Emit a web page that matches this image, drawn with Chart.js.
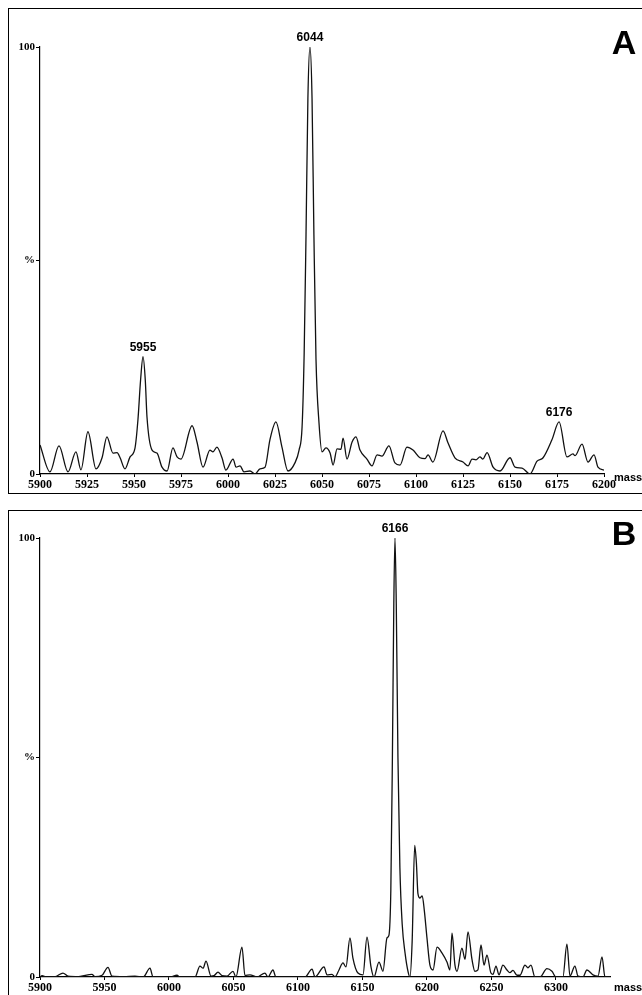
<!DOCTYPE html>
<html><head><meta charset="utf-8">
<script src="https://cdn.jsdelivr.net/npm/chart.js@4.4.1/dist/chart.umd.min.js"></script>
<style>
html,body{margin:0;padding:0;background:#fff;overflow:hidden;width:642px;height:995px;position:relative;}
.frame{position:absolute;border-top:1.5px solid #000;border-left:1.5px solid #000;}
.wrap{position:absolute;left:0;width:642px;}
</style></head><body>
<div class="frame" style="left:8px;top:8px;width:700px;height:484px;border-bottom:1.5px solid #000"></div>
<div class="frame" style="left:8px;top:510px;width:700px;height:600px;"></div>
<div class="wrap" style="top:0;height:495px;"><canvas id="cA" width="642" height="495"></canvas></div>
<div class="wrap" style="top:495px;height:500px;"><canvas id="cB" width="642" height="500"></canvas></div>
<script>
// ---------- Panel A data ----------
const massA = [5900, 5905.3, 5910.1, 5914.9, 5919.1, 5921.8, 5925.5, 5929.8, 5933.0, 5935.6, 5938.8, 5941.0, 5942.6, 5945.2, 5947.9, 5950.5, 5952.1, 5953.5, 5954.8, 5956.0, 5956.9, 5959.6, 5962.2, 5964.9, 5967.6, 5970.7, 5972.9, 5975.0, 5980.9, 5983.5, 5986.7, 5990.4, 5992.0, 5994.1, 5996.8, 5998.9, 6002.7, 6004.3, 6006.4, 6008.5, 6011.7, 6014.4, 6017.0, 6019.7, 6022.3, 6025.5, 6028.7, 6031.9, 6035.6, 6037.8, 6039.4, 6040.5, 6041.5, 6042.5, 6043.6, 6044.7, 6045.7, 6046.8, 6048.4, 6050.0, 6052.1, 6054.3, 6055.9, 6058.0, 6060.1, 6061.2, 6063.3, 6066.0, 6068.1, 6070.2, 6073.9, 6076.6, 6079.3, 6081.9, 6085.6, 6088.8, 6091.5, 6095.2, 6098.4, 6102.1, 6104.8, 6106.4, 6109.0, 6114.4, 6117.0, 6120.7, 6125.0, 6127.7, 6129.8, 6131.9, 6134.0, 6135.6, 6137.8, 6141.0, 6144.7, 6150.0, 6152.7, 6156.4, 6160.6, 6164.4, 6167.6, 6172.3, 6176.1, 6180.3, 6183.5, 6184.6, 6188.3, 6191.5, 6194.7, 6196.8, 6200.0];
const intensityA = [6.8, 0.5, 6.6, 0.5, 5.2, 1.0, 9.9, 1.2, 3.8, 8.7, 4.9, 5.0, 3.8, 1.2, 4.0, 6.0, 12.7, 22, 27.5, 22, 13.4, 5.6, 4.9, 1.6, 0.7, 6.1, 4.0, 3.5, 11.3, 7.5, 1.6, 5.6, 5.2, 6.3, 3.8, 0.9, 3.5, 1.6, 1.9, 0.5, 0.7, 0.0, 1.2, 1.6, 8.0, 12.2, 6.3, 0.7, 2.6, 5.6, 11, 28, 56, 88, 100, 88, 56, 27, 12, 5.2, 6.1, 4.9, 2.1, 5.9, 5.8, 8.4, 3.5, 7.5, 8.7, 5.6, 3.5, 1.9, 4.5, 4.2, 6.6, 2.6, 2.1, 6.3, 5.6, 3.8, 3.6, 4.5, 2.8, 10.1, 7.3, 3.8, 2.8, 1.9, 3.5, 3.3, 4.0, 3.5, 5.0, 1.6, 0.7, 3.8, 1.6, 1.4, 0.0, 3.0, 3.8, 8.0, 12.2, 4.0, 4.7, 4.3, 7.0, 2.8, 4.5, 1.6, 0.9];
const xTicksA = [5900, 5925, 5950, 5975, 6000, 6025, 6050, 6075, 6100, 6125, 6150, 6175, 6200];
const peakLabelsA = ['5955', '6044', '6176'];
const peakMassA = [5954.8, 6043.6, 6176.1];
const peakHeightA = [27.5, 100, 12.2];

// ---------- Panel B data ----------
const massB = [5900, 5901.6, 5905, 5912, 5917.8, 5921.7, 5930, 5940.3, 5942.6, 5948.1, 5952.7, 5955.8, 5965, 5973.6, 5980, 5985.3, 5987.6, 6000.8, 6006.2, 6008.5, 6020.2, 6024.0, 6026.4, 6028.7, 6032.6, 6034.9, 6038.0, 6041.1, 6045.0, 6049.6, 6051.9, 6056.6, 6058.9, 6062.8, 6068.2, 6074.4, 6076.7, 6080.6, 6082.9, 6091.5, 6105.4, 6110.9, 6113.2, 6120.2, 6122.5, 6126.4, 6128.7, 6131.8, 6134.9, 6137.2, 6140.3, 6142.6, 6146.5, 6150.4, 6153.5, 6156.6, 6158.9, 6162.8, 6165.9, 6169.0, 6170.5, 6172.0, 6173.2, 6174.3, 6175.2, 6176.2, 6177.5, 6179.0, 6180.8, 6183.0, 6185.5, 6186.8, 6188.5, 6190.5, 6191.8, 6193.0, 6194.6, 6196.3, 6198.0, 6200.0, 6202.3, 6204.7, 6207.8, 6211.6, 6215.5, 6217.8, 6219.4, 6221.7, 6223.3, 6227.1, 6229.5, 6231.8, 6234.9, 6237.2, 6239.5, 6241.9, 6244.2, 6246.5, 6249.6, 6251.2, 6253.5, 6255.8, 6258.9, 6262.0, 6264.3, 6266.7, 6269.8, 6272.1, 6276.0, 6278.3, 6280.6, 6283.7, 6287.6, 6293.0, 6296.9, 6300.0, 6305.4, 6308.5, 6310.9, 6314.7, 6317.1, 6320.9, 6324.0, 6328.7, 6332.6, 6335.7, 6338.0, 6341.9];
const intensityB = [0, 0.3, 0, 0.1, 0.9, 0.2, 0.1, 0.6, 0.1, 0.4, 2.2, 0.2, 0.1, 0.2, 0, 2.0, 0, 0, 0.4, 0, 0, 2.5, 2.0, 3.6, 0.2, 0.3, 1.1, 0.3, 0.2, 1.3, 0, 6.8, 0.3, 0.5, 0, 0.9, 0, 1.6, 0, 0, 0, 1.8, 0, 2.3, 0.5, 0.6, 0, 1.6, 3.2, 2.3, 8.9, 4.3, 0.9, 0.5, 9.1, 2.3, 0, 3.4, 1.3, 8.9, 9.5, 20, 50, 85, 100, 85, 50, 25, 12, 5.5, 1, 0, 8, 30, 26, 19, 18, 18.5, 15, 8.9, 2.7, 1.6, 6.8, 5.5, 3.4, 1.6, 10, 2.7, 1.3, 6.6, 4, 10.3, 4, 1.3, 1.6, 7.3, 2.7, 5, 0.9, 0.6, 2.5, 0.5, 2.7, 1.6, 1.0, 1.5, 0.4, 0.4, 2.7, 2.1, 2.7, 0, 0, 1.9, 1.3, 0, 0, 7.5, 0.2, 2.5, 0.2, 0, 1.6, 0.5, 0.2, 4.6, 0, 0];
const xTicksB = [5900, 5950, 6000, 6050, 6100, 6150, 6200, 6250, 6300];
const peakLabelsB = ['6166'];
const peakMassB = [6175.2];
const peakHeightB = [100];

// ---------- shared axis labels ----------
const yTickValues = [0, 50, 100];
const yTickLabels = ['0', '%', '100'];
const axisTitle = 'mass';

const textPlugin = {
  id: 'txt',
  afterDraw(chart, args, o) {
    const ctx = chart.ctx, xs = chart.scales.x, ys = chart.scales.y;
    ctx.save();
    ctx.fillStyle = '#000';
    ctx.font = 'bold 12px "Liberation Sans", Arial, sans-serif';
    ctx.textAlign = 'center';
    ctx.textBaseline = 'alphabetic';
    o.labels.forEach((t, i) => {
      ctx.fillText(t, xs.getPixelForValue(o.masses[i]), ys.getPixelForValue(o.heights[i]) - 6);
    });
    ctx.font = 'bold 11px "Liberation Sans", Arial, sans-serif';
    ctx.textAlign = 'left';
    ctx.textBaseline = 'middle';
    ctx.fillText(axisTitle, xs.right + o.massDx, xs.top + o.massDy);
    ctx.font = 'bold 34px "Liberation Sans", Arial, sans-serif';
    ctx.textAlign = 'center';
    ctx.fillText(o.letter, 624, o.letterY);
    ctx.restore();
  }
};

function build(id, c) {
  return new Chart(document.getElementById(id), {
    type: 'line',
    data: { datasets: [{
      data: c.mass.map((m, i) => ({ x: m, y: c.inten[i] })),
      borderColor: '#111', borderWidth: 1.3, pointRadius: 0,
      cubicInterpolationMode: 'monotone', fill: false
    }]},
    options: {
      responsive: false, animation: false, devicePixelRatio: 1,
      layout: { padding: { top: c.padTop, right: c.padRight, bottom: 0, left: 0 } },
      plugins: { legend: { display: false }, tooltip: { enabled: false }, txt: c.txt },
      scales: {
        x: {
          type: 'linear', min: c.xmin, max: c.xmax,
          afterBuildTicks: s => { s.ticks = c.xticks.map(v => ({ value: v })); },
          afterFit: s => { s.height = c.xh; },
          grid: { display: true, drawOnChartArea: false, drawTicks: true, tickLength: 3, color: '#000', lineWidth: 1 },
          border: { display: true, color: '#000', width: 1.2 },
          ticks: { color: '#000', font: { family: '"Liberation Serif", serif', weight: 'bold', size: 12 },
                   padding: 1, maxRotation: 0, autoSkip: false, callback: v => String(v) }
        },
        y: {
          min: 0, max: 100,
          afterBuildTicks: s => { s.ticks = yTickValues.map(v => ({ value: v })); },
          afterFit: s => { s.width = 40; },
          grid: { display: true, drawOnChartArea: false, drawTicks: true, tickLength: 4, color: '#000', lineWidth: 1 },
          border: { display: true, color: '#000', width: 1.2 },
          ticks: { color: '#000', font: { family: '"Liberation Serif", serif', weight: 'bold', size: 11 },
                   padding: 1, callback: v => yTickLabels[yTickValues.indexOf(v)] }
        }
      }
    },
    plugins: [textPlugin]
  });
}

build('cA', {
  mass: massA, inten: intensityA, xmin: 5900, xmax: 6200, xticks: xTicksA,
  padTop: 47, padRight: 38, xh: 21,
  txt: { labels: peakLabelsA, masses: peakMassA, heights: peakHeightA, massDx: 10, massDy: 4, letter: 'A', letterY: 45 }
});
build('cB', {
  mass: massB, inten: intensityB, xmin: 5900, xmax: 6341.9, xticks: xTicksB,
  padTop: 43, padRight: 32, xh: 18,
  txt: { labels: peakLabelsB, masses: peakMassB, heights: peakHeightB, massDx: 4, massDy: 11, letter: 'B', letterY: 41 }
});
</script>
</body></html>
